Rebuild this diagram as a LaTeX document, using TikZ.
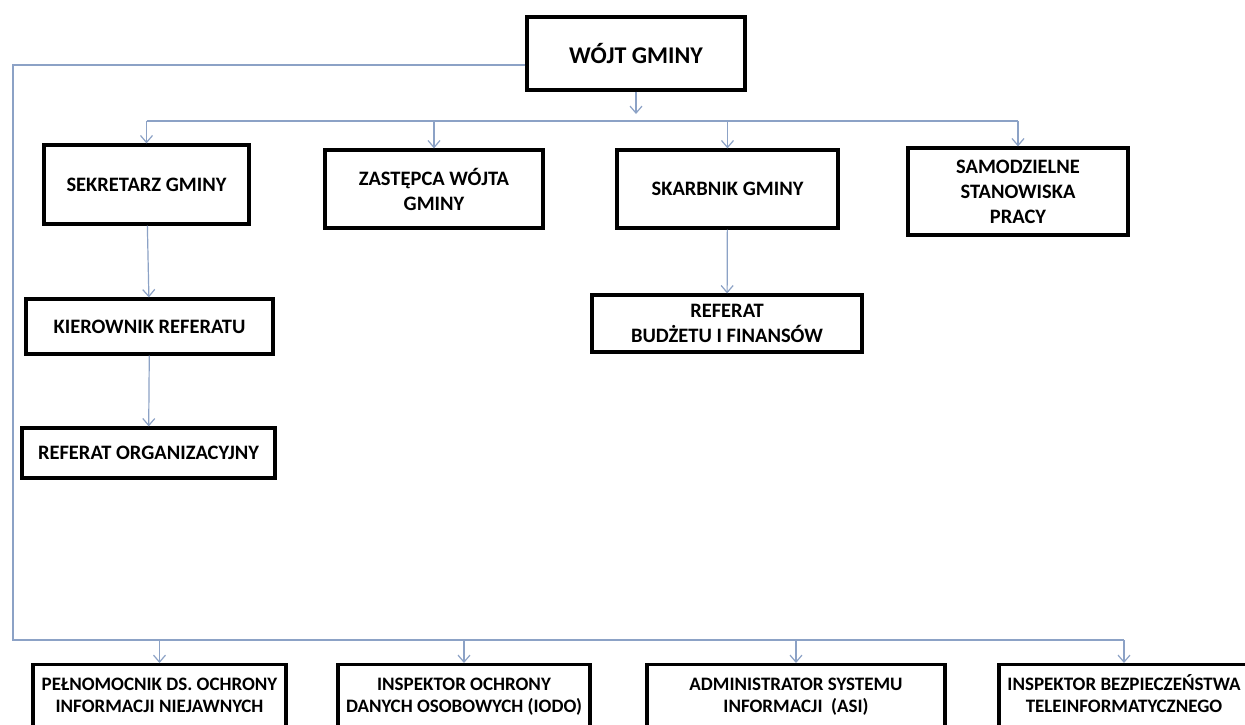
\documentclass[tikz,border=0pt]{standalone}
\usepackage{fontspec}
\setmainfont{Carlito}
\usetikzlibrary{arrows.meta}
\definecolor{linia}{RGB}{140,162,198}

\begin{document}
\begin{tikzpicture}[x=1pt,y=-1pt,
    box/.style={draw=black,line width=3.2pt,align=center,inner sep=0pt,
        font=\bfseries\fontsize{20.5}{25}\selectfont},
    dolny/.style={box,anchor=north,text height=48pt,text depth=70pt,
        font=\bfseries\fontsize{19}{22}\selectfont},
    link/.style={draw=linia,line width=1.2pt},
    strz/.style={link,-{Straight Barb[length=7pt,width=12pt]}}]
    % Obszar rysunku
    \clip (0,0) rectangle (1245,724);
    \fill[white] (0,0) rectangle (1245,724);

    % Wójt
    \node[box,minimum width=218pt,minimum height=73pt,font=\bfseries\fontsize{24}{28}\selectfont] (wojt) at (636,53.5) {WÓJT GMINY};

    % Pierwszy poziom
    \node[box,minimum width=205pt,minimum height=79pt] (sekretarz) at (146.5,184.5) {SEKRETARZ GMINY};
    \node[box,minimum width=218pt,minimum height=78pt] (zastepca) at (434,189) {ZASTĘPCA WÓJTA\\GMINY};
    \node[box,minimum width=221pt,minimum height=78pt] (skarbnik) at (727.5,189) {SKARBNIK GMINY};
    \node[box,minimum width=220pt,minimum height=87pt] (samodz) at (1018,191.5) {SAMODZIELNE\\STANOWISKA\\PRACY};

    % Referaty
    \node[box,minimum width=247pt,minimum height=55pt] (kierownik) at (149.5,326.5) {KIEROWNIK REFERATU};
    \node[box,minimum width=253pt,minimum height=50pt] (refOrg) at (148.5,453) {REFERAT ORGANIZACYJNY};
    \node[box,minimum width=270pt,minimum height=57pt] (budzet) at (727,323.5) {REFERAT\\BUDŻETU I FINANSÓW};

    % Stanowiska na dole
    \node[dolny,minimum width=253pt] (pelnomocnik) at (159.5,663) {PEŁNOMOCNIK DS. OCHRONY\\INFORMACJI NIEJAWNYCH};
    \node[dolny,minimum width=252pt] (iodo) at (464,663) {INSPEKTOR OCHRONY\\DANYCH OSOBOWYCH (IODO)};
    \node[dolny,minimum width=298pt] (asi) at (796,663) {ADMINISTRATOR SYSTEMU\\INFORMACJI\ \ (ASI)};
    \node[dolny,minimum width=250pt] (bezp) at (1124,663) {INSPEKTOR BEZPIECZEŃSTWA\\TELEINFORMATYCZNEGO};

    % Magistrala górna
    \coordinate (szyna) at (636,121);
    \coordinate (grot) at (636,114);
    \draw[strz] (wojt) -- (grot);
    \draw[link] (sekretarz.north |- szyna) -- (samodz.north |- szyna);
    \foreach \n in {sekretarz,zastepca,skarbnik,samodz}
        \draw[strz] (\n.north |- szyna) -- (\n);

    % Podległości
    \draw[strz] (sekretarz) -- (kierownik);
    \draw[strz] (kierownik) -- (refOrg);
    \draw[strz] (skarbnik) -- (budzet);

    % Linia boczna do stanowisk na dole
    \coordinate (lewyG) at (13,65);
    \coordinate (lewyD) at (13,640);
    \draw[link] (wojt.west |- lewyG) -- (lewyG) -- (lewyD) -- (bezp.north |- lewyD);
    \foreach \n in {pelnomocnik,iodo,asi,bezp}
        \draw[strz] (\n.north |- lewyD) -- (\n);
\end{tikzpicture}
\end{document}
